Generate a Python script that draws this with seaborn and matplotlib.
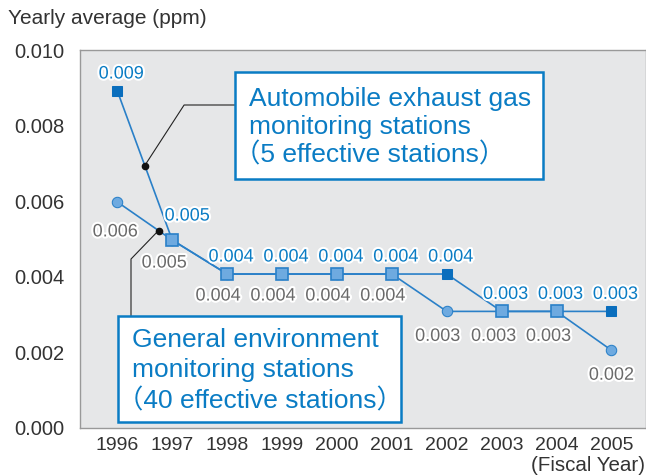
import numpy as np
import pandas as pd
import matplotlib
matplotlib.use("Agg")
import matplotlib.pyplot as plt
import matplotlib.patheffects as pe
from matplotlib.patches import Rectangle
import seaborn as sns

years = [1996, 1997, 1998, 1999, 2000, 2001, 2002, 2003, 2004, 2005]
auto_vals = [0.0089, 0.00495, 0.00405, 0.00405, 0.00405, 0.00405, 0.00405, 0.00306, 0.00306, 0.00306]
general_vals = [0.00596, 0.00495, 0.00405, 0.00405, 0.00405, 0.00405, 0.00306, 0.00306, 0.00306, 0.00203]
auto_labels = ["0.009", "0.005", "0.004", "0.004", "0.004", "0.004", "0.004", "0.003", "0.003", "0.003"]
general_labels = ["0.006", "0.005", "0.004", "0.004", "0.004", "0.004", "0.003", "0.003", "0.003", "0.002"]
y_ticks = [0.000, 0.002, 0.004, 0.006, 0.008, 0.010]

auto_lines = ["Automobile exhaust gas", "monitoring stations", "（5 effective stations）"]
general_lines = ["General environment", "monitoring stations", "（40 effective stations）"]

LINE = "#2a80c8"
DARK = "#0a6ebd"
LIGHT = "#6eaae0"
TXT_BLUE = "#0a7cc4"
GRAY = "#6a6a6a"

sns.set_style("white")
plt.rcParams["font.family"] = ["Liberation Sans", "Noto Sans CJK JP", "DejaVu Sans"]

df = pd.DataFrame({"year": years, "auto": auto_vals, "general": general_vals})

W, H = 646, 477
AX_L, AX_R, AX_T, AX_B = 80, 645.5, 50.5, 429
fig = plt.figure(figsize=(W / 100, H / 100), dpi=100)
ax = fig.add_axes([AX_L / W, (H - AX_B) / H, (AX_R - AX_L) / W, (AX_B - AX_T) / H])
ax.set_facecolor("#e6e7e8")


def frac(x, y):
    # pixel position in the image -> axes fraction
    return (x - AX_L) / (AX_R - AX_L), (AX_B - y) / (AX_B - AX_T)


sns.lineplot(data=df, x="year", y="auto", ax=ax, color=LINE, lw=1.2,
             marker="s", markersize=7.5, markerfacecolor=DARK, markeredgecolor=DARK, zorder=3)
sns.lineplot(data=df, x="year", y="general", ax=ax, color=LINE, lw=1.2,
             marker="o", markersize=7.5, markerfacecolor=LIGHT, markeredgecolor=LINE, zorder=3)
# where both series coincide the marker is a light square
same = df[np.isclose(df["auto"], df["general"])]
ax.plot(same["year"], same["auto"], ls="none", marker="s", markersize=8,
        markerfacecolor=LIGHT, markeredgecolor=LINE, markeredgewidth=1.2, zorder=4)

stroke = [pe.withStroke(linewidth=3, foreground="white")]
for i, (x, y, lab) in enumerate(zip(years, auto_vals, auto_labels)):
    off = (15, 24) if i == 1 else (4, 17)
    ax.annotate(lab, (x, y), xytext=off, textcoords="offset pixels", ha="center",
                va="center", fontsize=13, color=TXT_BLUE, path_effects=stroke, zorder=5)
for i, (x, y, lab) in enumerate(zip(years, general_vals, general_labels)):
    off = {0: (-2, -30), 1: (-8, -23), 6: (-9, -25), 7: (-8, -25), 8: (-8, -25),
           9: (0, -25)}.get(i, (-9, -22))
    ax.annotate(lab, (x, y), xytext=off, textcoords="offset pixels", ha="center",
                va="center", fontsize=13, color=GRAY, path_effects=stroke, zorder=5)

# callout boxes with connectors to points on the lines
auto_dot = (1996.5, np.interp(1996.5, years, auto_vals))
gen_dot = (1996.75, np.interp(1996.75, years, general_vals))
ax.plot(*auto_dot, "o", color="#111111", ms=4.5, zorder=6)
ax.plot(*gen_dot, "o", color="#111111", ms=4.5, zorder=6)

conn = dict(arrowstyle="-", color="#222222", lw=0.8, shrinkA=0, shrinkB=0)
ax.annotate("", xy=auto_dot, xytext=frac(235, 106), textcoords="axes fraction",
            arrowprops=dict(conn, connectionstyle="angle,angleA=0,angleB=57,rad=0"), zorder=5)
ax.annotate("", xy=gen_dot, xytext=frac(131, 318), textcoords="axes fraction",
            arrowprops=dict(conn, connectionstyle="angle,angleA=90,angleB=46,rad=0"), zorder=5)


def callout(left, top, right, bottom, lines, text_x, baselines, paren_x):
    x0, y0 = frac(left, bottom)
    x1, y1 = frac(right, top)
    ax.add_patch(Rectangle((x0, y0), x1 - x0, y1 - y0, transform=ax.transAxes,
                           fc="white", ec=TXT_BLUE, lw=1.8, zorder=7))
    for line, base in zip(lines, baselines):
        tx = paren_x if line.startswith("（") else text_x
        ax.text(*frac(tx, base), line, transform=ax.transAxes, ha="left", va="baseline",
                fontsize=19, color=TXT_BLUE, zorder=8)


callout(235, 73, 543, 180, auto_lines, 249, [106, 134, 162], 234)
callout(118, 317, 401, 423, general_lines, 132, [347, 377, 408], 117)

ax.set_xlim(1995.32, 2005.62)
ax.set_ylim(-0.00003, 0.010)
ax.set_xticks(years)
ax.set_xticklabels([str(y) for y in years])
ax.set_yticks(y_ticks)
ax.set_yticklabels([f"{v:.3f}" for v in y_ticks])
ax.tick_params(axis="y", direction="in", length=5, width=1, color="#777777", pad=11,
               labelsize=14.5, labelcolor="#333333")
ax.tick_params(axis="x", length=0, pad=6, labelsize=14, labelcolor="#333333")
ax.set_xlabel("")
ax.set_ylabel("")
for s in ax.spines.values():
    s.set_color("#999999")
    s.set_linewidth(1)
    s.set_visible(True)

fig.text(8 / W, 1 - 19 / H, "Yearly average (ppm)", fontsize=15, color="#333333",
         ha="left", va="center")
fig.text(645 / W, 1 - 466 / H, "(Fiscal Year)", fontsize=14.8, color="#333333",
         ha="right", va="center")

fig.savefig("out.png", dpi=100, facecolor="white")
